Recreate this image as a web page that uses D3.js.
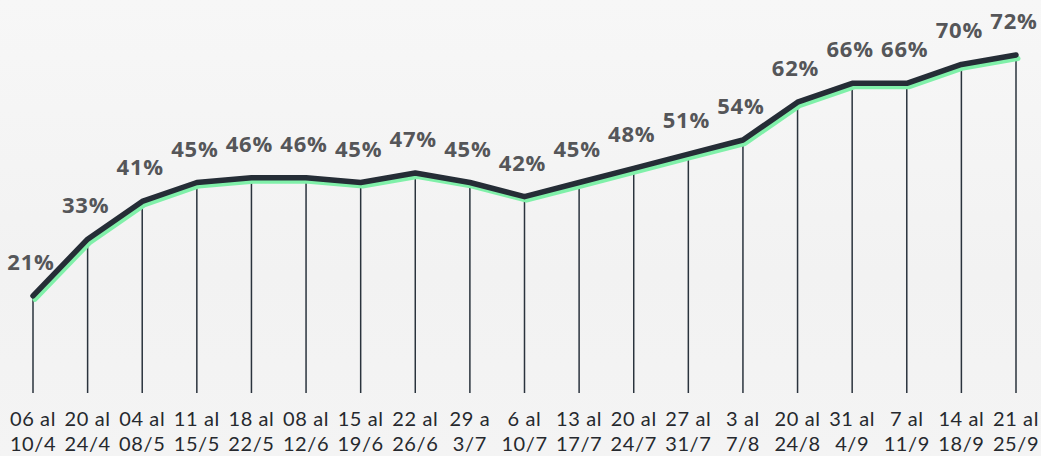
<!DOCTYPE html>
<html>
<head>
<meta charset="utf-8">
<script src="https://cdn.jsdelivr.net/npm/d3@7"></script>
<style>
  html, body { margin: 0; padding: 0; background: #f3f3f3; }
  svg { display: block; }
  .val { font-family: "Open Sans", sans-serif; font-weight: 700; font-size: 22px; fill: #555659; letter-spacing: 0.8px; }
  .tick-lbl { font-family: Lato, sans-serif; font-weight: 400; font-size: 20px; fill: #26292e; letter-spacing: 0.6px; }
</style>
</head>
<body>
<div id="chart"></div>
<script>
const weeksFrom = ["06 al", "20 al", "04 al", "11 al", "18 al", "08 al", "15 al", "22 al", "29 a", "6 al",
  "13 al", "20 al", "27 al", "3 al", "20 al", "31 al", "7 al", "14 al", "21 al"];
const weeksTo = ["10/4", "24/4", "08/5", "15/5", "22/5", "12/6", "19/6", "26/6", "3/7", "10/7",
  "17/7", "24/7", "31/7", "7/8", "24/8", "4/9", "11/9", "18/9", "25/9"];
const values = [21, 33, 41, 45, 46, 46, 45, 47, 45, 42, 45, 48, 51, 54, 62, 66, 66, 70, 72];

const width = 1041, height = 456;
const data = values.map((v, i) => ({ key: i, from: weeksFrom[i], to: weeksTo[i], value: v }));

const svg = d3.select("#chart").append("svg")
    .attr("width", width)
    .attr("height", height);

// background
const bg = svg.append("defs").append("linearGradient")
    .attr("id", "bg").attr("x1", 0).attr("y1", 0).attr("x2", 0).attr("y2", 1);
bg.append("stop").attr("offset", "0%").attr("stop-color", "#f7f7f7");
bg.append("stop").attr("offset", "60%").attr("stop-color", "#f2f2f2");
bg.append("stop").attr("offset", "100%").attr("stop-color", "#f4f4f4");
svg.append("rect").attr("width", width).attr("height", height).attr("fill", "url(#bg)");

const x = d3.scalePoint()
    .domain(data.map(d => d.key))
    .range([33, 1016]);

const y = d3.scaleLinear()
    .domain([0, 72])
    .range([395, 55]);

const baseY = 393;

// drop lines
svg.append("g").selectAll("line")
    .data(data)
    .enter().append("line")
    .attr("x1", d => x(d.key))
    .attr("x2", d => x(d.key))
    .attr("y1", d => y(d.value))
    .attr("y2", baseY)
    .attr("stroke", "#2a333d")
    .attr("stroke-width", 1.5);

const line = d3.line()
    .x(d => x(d.key))
    .y(d => y(d.value));

// green shadow line
svg.append("path")
    .datum(data)
    .attr("d", line)
    .attr("transform", "translate(2,3.5)")
    .attr("fill", "none")
    .attr("stroke", "#80f0a9")
    .attr("stroke-width", 5)
    .attr("stroke-linecap", "round")
    .attr("stroke-linejoin", "round");

// main line
svg.append("path")
    .datum(data)
    .attr("d", line)
    .attr("fill", "none")
    .attr("stroke", "#252d36")
    .attr("stroke-width", 5.5)
    .attr("stroke-linecap", "round")
    .attr("stroke-linejoin", "round");

// value labels
svg.append("g").selectAll("text")
    .data(data)
    .enter().append("text")
    .attr("class", "val")
    .attr("x", d => x(d.key) - 2)
    .attr("y", d => y(d.value) - 26)
    .attr("text-anchor", "middle")
    .text(d => d.value + "%");

// category labels (two lines)
const lbl = svg.append("g").selectAll("text")
    .data(data)
    .enter().append("text")
    .attr("class", "tick-lbl")
    .attr("text-anchor", "middle");
lbl.append("tspan")
    .attr("x", d => x(d.key))
    .attr("y", 426)
    .text(d => d.from);
lbl.append("tspan")
    .attr("x", d => x(d.key))
    .attr("y", 451)
    .text(d => d.to);
</script>
</body>
</html>
